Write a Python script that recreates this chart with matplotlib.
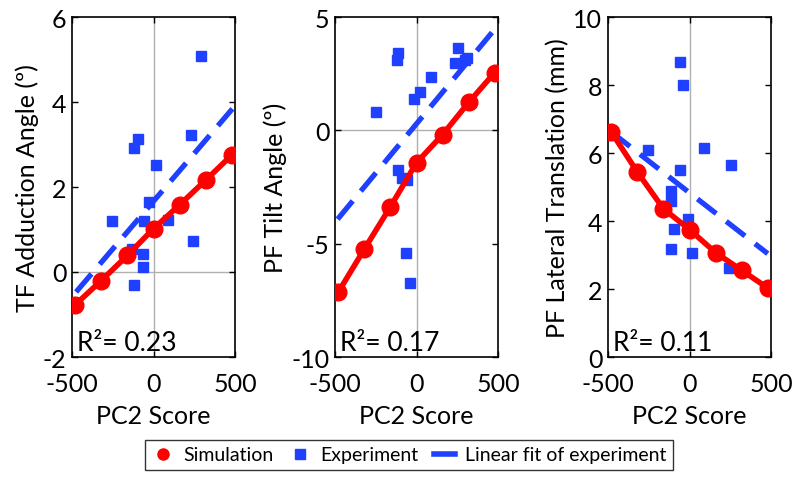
import matplotlib
matplotlib.use("Agg")
import matplotlib.pyplot as plt
from matplotlib.lines import Line2D

plt.rcParams['font.family'] = ['Lato', 'DejaVu Sans']
plt.rcParams['axes.unicode_minus'] = False

# PC2 score positions of the simulation points
sim_x = [-480, -320, -160, 0, 160, 320, 480]

# TF adduction angle
tf_sim = [-0.77, -0.2, 0.39, 1.02, 1.58, 2.16, 2.75]
tf_exp_x = [291, -118, -93, 232, 13, -26, -253, -56, 87, 244, -134, -62, -66, -118]
tf_exp_y = [5.08, 2.92, 3.14, 3.23, 2.51, 1.65, 1.19, 1.19, 1.22, 0.72, 0.53, 0.43, 0.12, -0.31]
tf_fit_x = [-475, 484]
tf_fit_y = [-0.47, 3.84]

# PF tilt angle
tilt_sim = [-7.14, -5.24, -3.37, -1.43, -0.19, 1.23, 2.55]
tilt_exp_x = [-116, -120, -251, -17, 20, 89, 254, 234, 295, 311, -116, -89, -59, -65, -40]
tilt_exp_y = [3.43, 3.1, 0.79, 1.38, 1.71, 2.37, 3.62, 2.99, 3.1, 3.18, -1.76, -2.09, -2.17, -5.42, -6.73]
tilt_fit_x = [-484, 475]
tilt_fit_y = [-3.92, 4.42]

# PF lateral translation
lat_sim = [6.62, 5.44, 4.36, 3.75, 3.07, 2.55, 2.03]
lat_exp_x = [-57, -41, 88, 253, -255, -57, -112, -112, -10, -94, -112, 16, 241]
lat_exp_y = [8.68, 8.01, 6.16, 5.64, 6.08, 5.49, 4.87, 4.58, 4.05, 3.77, 3.19, 3.06, 2.62]
lat_fit_x = [-480, 480]
lat_fit_y = [6.62, 3.04]

panels = [
    dict(sim=tf_sim, ex=tf_exp_x, ey=tf_exp_y, fx=tf_fit_x, fy=tf_fit_y,
         ylim=(-2, 6), yticks=[-2, 0, 2, 4, 6], ylabel='TF Adduction Angle (º)', r2='0.23', left=72),
    dict(sim=tilt_sim, ex=tilt_exp_x, ey=tilt_exp_y, fx=tilt_fit_x, fy=tilt_fit_y,
         ylim=(-10, 5), yticks=[-10, -5, 0, 5], ylabel='PF Tilt Angle (º)', r2='0.17', left=335),
    dict(sim=lat_sim, ex=lat_exp_x, ey=lat_exp_y, fx=lat_fit_x, fy=lat_fit_y,
         ylim=(0, 10), yticks=[0, 2, 4, 6, 8, 10], ylabel='PF Lateral Translation (mm)', r2='0.11', left=608),
]

RED = '#ff0000'
BLUE = '#1f40ff'

W, H = 800, 485
fig = plt.figure(figsize=(W / 100, H / 100), dpi=100)

for p in panels:
    ax = fig.add_axes([p['left'] / W, 1 - 358 / H, 163 / W, 340 / H])
    ax.axvline(0, color='#b0b0b0', lw=1, zorder=0)
    ax.axhline(0, color='#b0b0b0', lw=1, zorder=0)
    ax.plot(p['ex'], p['ey'], 's', color=BLUE, ms=7, mec=BLUE, zorder=2)
    ax.plot(p['fx'], p['fy'], '--', color=BLUE, lw=3.8, dashes=(4.5, 2.4), zorder=3)
    ax.plot(sim_x, p['sim'], '-o', color=RED, lw=4, ms=12, zorder=4)
    ax.set_xlim(-500, 500)
    ax.set_ylim(*p['ylim'])
    ax.set_xticks([-500, 0, 500])
    ax.set_yticks(p['yticks'])
    ax.tick_params(direction='in', labelsize=18, top=True, right=True, length=4, width=1)
    ax.tick_params(axis='x', pad=11)
    ax.tick_params(axis='y', pad=4)
    ax.set_xlabel('PC2 Score', fontsize=18, labelpad=6)
    ax.set_ylabel(p['ylabel'], fontsize=18, labelpad=3)
    for s in ax.spines.values():
        s.set_linewidth(1.2)
    ax.text(0.03, 0.005, 'R²= ' + p['r2'], transform=ax.transAxes, fontsize=19,
            ha='left', va='bottom')

handles = [
    Line2D([], [], marker='o', color=RED, ls='none', ms=8),
    Line2D([], [], marker='s', color=BLUE, ls='none', ms=7),
    Line2D([], [], color=BLUE, lw=4),
]
fig.legend(handles, ['Simulation', 'Experiment', 'Linear fit of experiment'],
           loc='center', bbox_to_anchor=(409 / W, 1 - 456 / H), ncol=3, fontsize=14,
           frameon=True, fancybox=False, edgecolor='black', handlelength=1.1,
           handletextpad=0.5, columnspacing=0.8, borderpad=0.35)

fig.savefig('out.png', dpi=100)
